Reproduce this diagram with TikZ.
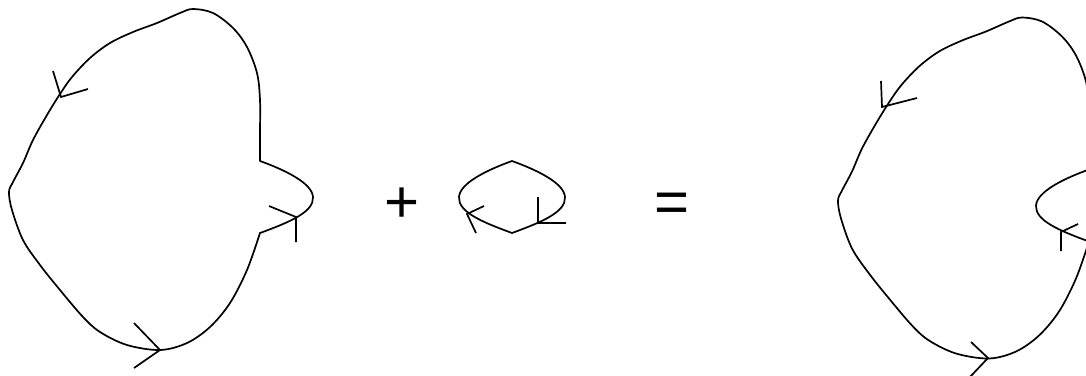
\documentclass[tikz,border=0pt]{standalone}
\usepackage{fontspec}
\setmainfont{Liberation Sans}
\newcommand\myouterloop{%
  plot[smooth, tension=0.55] coordinates {
    (260,161) (260,133) (260,100) (257,73) (247,47) (233,28) (213,13) (193,9)
    (180,13) (157,23) (133,32) (110,43) (90,58) (72,77) (60,94) (47,115)
    (33,140) (23,163) (13,182) (9,192) (12,210) (23,240) (40,265) (60,290)
    (83,317) (100,332) (127,345) (160,350) (187,343) (210,327) (230,303)
    (247,270) (260,233)}}
\tikzset{
  curve/.style={line width=1.7pt, line join=round, line cap=round},
  tick/.style={line width=1.7pt, line join=miter, line cap=butt},
  sym/.style={font=\fontsize{60}{60}\selectfont, inner sep=0pt, anchor=base}
}
\begin{document}
\begin{tikzpicture}[x=1pt, y=-1pt]
  \useasboundingbox (0,0) rectangle (1086,375);
  \clip (0,0) rectangle (1086,375);
  % left figure: loop with outward bulge
  \draw[curve] \myouterloop
    .. controls (290,222) and (314,212) .. (313,197)
    .. controls (312,183) and (285,170) .. (260,161) -- cycle;
  \draw[tick] (53,71) -- (61,97) -- (88,89);
  \draw[tick] (134,323) -- (160,350) -- (134,368);
  \draw[tick] (269,206) -- (296,217) -- (296,242);
  % plus
  \node[sym] (plus) at (402,222) {+};
  % small loop
  \draw[curve] (512,161) .. controls (537,170) and (564,183) .. (565,197)
    .. controls (566,212) and (542,222) .. (512,233)
    .. controls (482,222) and (458,212) .. (459,197)
    .. controls (460,183) and (487,170) .. (512,161) -- cycle;
  \draw[tick] (484,206) -- (467,214) -- (476,233);
  \draw[tick] (538,197) -- (538,223) -- (566,223);
  % equals
  \node[sym] (eq) at (672,222) {=};
  % right figure: loop with inward indentation
  \begin{scope}[shift={(829,8.5)}]
    \draw[curve] \myouterloop
      .. controls (230,222) and (206,212) .. (207,197)
      .. controls (208,183) and (235,170) .. (260,161) -- cycle;
  \end{scope}
  \draw[tick] (881,81) -- (882,107) -- (917,98);
  \draw[tick] (971,342) -- (988,358) -- (969,378);
  \draw[tick] (1078,224) -- (1061,232) -- (1061,251);
\end{tikzpicture}
\end{document}
